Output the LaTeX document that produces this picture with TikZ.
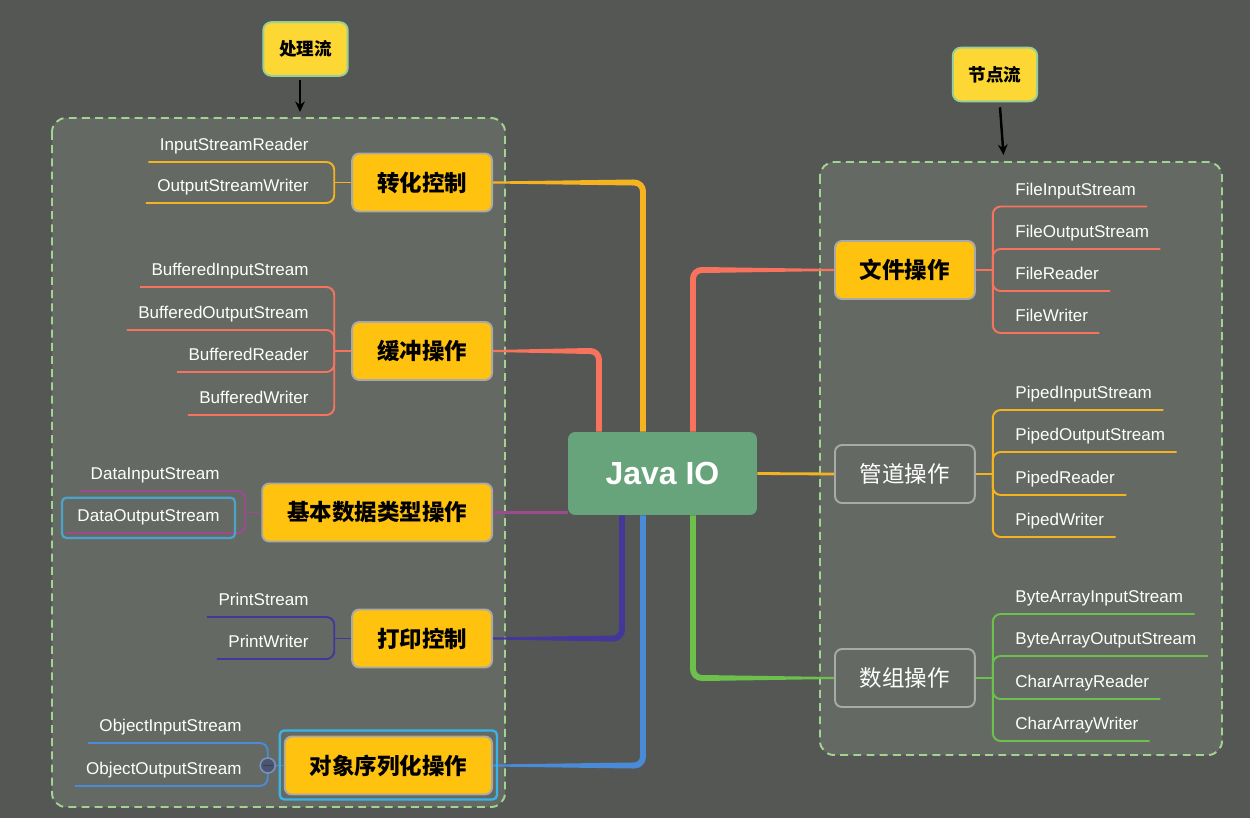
\documentclass[tikz,border=0pt]{standalone}
\usepackage{fontspec}
\setmainfont{Liberation Sans}
\newfontfamily\cjk{Noto Sans CJK SC}
\usepackage{tikz}
\usetikzlibrary{calc}
\usetikzlibrary{arrows.meta}

\definecolor{bgGray}{HTML}{555755}
\definecolor{panelGray}{HTML}{646A63}
\definecolor{dashGreen}{HTML}{A3D392}
\definecolor{lblYellow}{HTML}{FDD835}
\definecolor{lblEdge}{HTML}{98CF98}
\definecolor{catYellow}{HTML}{FFC20E}
\definecolor{catEdge}{HTML}{A9A9A9}
\definecolor{javaGreen}{HTML}{67A37B}
\definecolor{cOrange}{HTML}{F6B320}
\definecolor{cCoral}{HTML}{F7735E}
\definecolor{cPurple}{HTML}{9E4A8F}
\definecolor{cIndigo}{HTML}{43389A}
\definecolor{cBlue}{HTML}{4A8BD8}
\definecolor{cGreen}{HTML}{6CC04B}
\definecolor{selCyan}{HTML}{3AB4E8}
\definecolor{selBlue}{HTML}{4CA2C8}
\definecolor{foldFill}{HTML}{4A5573}
\definecolor{foldEdge}{HTML}{7890BC}

\tikzset{
  panelbox/.style={fill=panelGray, draw=dashGreen, line width=1.1pt, dash pattern=on 4.5pt off 3pt, rounded corners=8pt},
  toplbl/.style={fill=lblYellow, draw=lblEdge, line width=1.1pt, rounded corners=4.5pt, minimum width=48pt, minimum height=30.5pt, font=\cjk\bfseries\fontsize{10}{12}\selectfont, text=black},
  catbox/.style={fill=catYellow, draw=catEdge, line width=1.1pt, rounded corners=4pt, inner xsep=14.2pt, minimum height=33pt, font=\cjk\bfseries\fontsize{12.8}{15}\selectfont, text=black},
  catgray/.style={catbox, fill=panelGray, font=\cjk\fontsize{12.8}{15}\selectfont, text=white},
  javabox/.style={fill=javaGreen, rounded corners=4pt, minimum width=107.5pt, minimum height=47.2pt, font=\bfseries\fontsize{18.2}{20}\selectfont, text=white},
  leaf/.style={text=white, font=\fontsize{9.7}{11}\selectfont, text depth=2.5pt, inner ysep=3.8pt, inner xsep=6.3pt},
  leafL/.style={leaf, anchor=south east},
  leafR/.style={leaf, anchor=south west},
  twig/.style={draw=#1, line width=1.1pt, rounded corners=4.5pt},
  trunk/.style={draw=#1, line width=3.4pt, rounded corners=5pt},
  pointer/.style={draw=black, line width=1.4pt, -{Stealth[length=6pt,width=5.5pt]}},
  selbox/.style={draw=#1, line width=1.3pt, rounded corners=2.5pt},
}

\begin{document}
\begin{tikzpicture}[x=0.02cm, y=-0.02cm]
        %BACKGROUND
        \fill[bgGray] (0,0) rectangle (1250,818);
        \useasboundingbox (0,0) rectangle (1250,818);

        %PANELS
        \draw[panelbox] (52,118) rectangle (505,807);
        \draw[panelbox] (820,162) rectangle (1222,755);

        %TOP LABELS
        \node[toplbl] (cll) at (305.5,49) {处理流};
        \node[toplbl] (jdl) at (995,74.5) {节点流};
        \coordinate (cllTip) at (300,112);
        \coordinate (jdlTip) at (1003.5,155);
        \draw[pointer] ($(cll.south)+(-5.5,3)$) -- (cllTip);
        \draw[pointer] ($(jdl.south)+(5,5)$) -- (jdlTip);

        %CENTER
        \node[javabox] (java) at (662.5,473.5) {Java IO};

        %CATEGORIES
        \node[catbox, anchor=east] (zh) at (493,182.5) {转化控制};
        \node[catbox, anchor=east] (hc) at (493,351) {缓冲操作};
        \node[catbox, anchor=east] (jb) at (493,512.5) {基本数据类型操作};
        \node[catbox, anchor=east] (dy) at (493,638.5) {打印控制};
        \node[catbox, anchor=east] (dx) at (493,765.5) {对象序列化操作};
        \node[catbox, anchor=west] (wj) at (834,270) {文件操作};
        \node[catgray, anchor=west] (gd) at (834,474) {管道操作};
        \node[catgray, anchor=west] (sz) at (834,678) {数组操作};

        %TRUNKS
        \coordinate (tA) at ($(java.north)+(-19.5,0)$);
        \coordinate (tB) at ($(java.north)+(-63.5,0)$);
        \coordinate (tC) at ($(java.south)+(-40.5,0)$);
        \coordinate (tD) at ($(java.south)+(-19.5,0)$);
        \coordinate (tE) at ($(java.north)+(30.5,0)$);
        \coordinate (tF) at ($(java.south)+(30.5,0)$);
        \coordinate (kzh) at (zh.east -| tA);
        \coordinate (khc) at (hc.east -| tB);
        \coordinate (kdy) at (dy.east -| tC);
        \coordinate (kdx) at (dx.east -| tD);
        \coordinate (kwj) at (wj.west -| tE);
        \coordinate (ksz) at (sz.west -| tF);

        \fill[cOrange] ($(zh.east)+(0,-1)$) -- ($(kzh)+(-10,-3)$) -- ($(kzh)+(-10,3)$) -- ($(zh.east)+(0,1)$) -- cycle;
        \draw[trunk=cOrange] ($(kzh)+(-11,0)$) -| (tA);
        \fill[cCoral] ($(hc.east)+(0,-1)$) -- ($(khc)+(-10,-3)$) -- ($(khc)+(-10,3)$) -- ($(hc.east)+(0,1)$) -- cycle;
        \draw[trunk=cCoral] ($(khc)+(-11,0)$) -| (tB);
        \fill[cIndigo] ($(dy.east)+(0,-1)$) -- ($(kdy)+(-10,-3)$) -- ($(kdy)+(-10,3)$) -- ($(dy.east)+(0,1)$) -- cycle;
        \draw[trunk=cIndigo] ($(kdy)+(-11,0)$) -| (tC);
        \fill[cBlue] ($(dx.east)+(0,-1)$) -- ($(kdx)+(-10,-3)$) -- ($(kdx)+(-10,3)$) -- ($(dx.east)+(0,1)$) -- cycle;
        \draw[trunk=cBlue] ($(kdx)+(-11,0)$) -| (tD);
        \fill[cCoral] ($(wj.west)+(0,-1)$) -- ($(kwj)+(10,-3)$) -- ($(kwj)+(10,3)$) -- ($(wj.west)+(0,1)$) -- cycle;
        \draw[trunk=cCoral] ($(kwj)+(11,0)$) -| (tE);
        \fill[cGreen] ($(sz.west)+(0,-1)$) -- ($(ksz)+(10,-3)$) -- ($(ksz)+(10,3)$) -- ($(sz.west)+(0,1)$) -- cycle;
        \draw[trunk=cGreen] ($(ksz)+(11,0)$) -| (tF);
        \draw[cPurple, line width=1.4pt] (jb.east) -- (jb.east -| java.west);
        \draw[cOrange, line width=1.6pt] (java.east) -- (gd.west);

        %LEAVES LEFT
        \coordinate (zhJ) at ($(zh.west)+(-17,0)$);
        \node[leafL] (isr) at (320,162) {InputStreamReader};
        \node[leafL] (osw) at (320,203) {OutputStreamWriter};
        \draw[twig=cOrange] (zh.west) -- (zhJ);
        \draw[twig=cOrange] (isr.south west) -| (zhJ);
        \draw[twig=cOrange] (osw.south west) -| (zhJ);

        \coordinate (hcJ) at ($(hc.west)+(-17,0)$);
        \node[leafL] (bis) at (320,287) {BufferedInputStream};
        \node[leafL] (bos) at (320,330) {BufferedOutputStream};
        \node[leafL] (brd) at (320,372) {BufferedReader};
        \node[leafL] (bwr) at (320,415) {BufferedWriter};
        \draw[twig=cCoral] (hc.west) -- (hcJ);
        \draw[twig=cCoral] (bis.south west) -| (hcJ);
        \draw[twig=cCoral] (bos.south west) -| (hcJ);
        \draw[twig=cCoral] (brd.south west) -| (hcJ);
        \draw[twig=cCoral] (bwr.south west) -| (hcJ);

        \coordinate (jbJ) at ($(jb.west)+(-16,0)$);
        \node[leafL] (dis) at (231,491) {DataInputStream};
        \node[leafL] (dos) at (231,533) {DataOutputStream};
        \draw[twig=cPurple] (jb.west) -- (jbJ);
        \draw[twig=cPurple] (dis.south west) -| (jbJ);
        \draw[twig=cPurple] (dos.south west) -| (jbJ);
        \draw[selbox=selBlue] ($(dos.north west)+(-4,-5)$) rectangle ($(dos.south east)+(4,5)$);

        \coordinate (dyJ) at ($(dy.west)+(-17,0)$);
        \node[leafL] (ps) at (320,617) {PrintStream};
        \node[leafL] (pw) at (320,659) {PrintWriter};
        \draw[twig=cIndigo] (dy.west) -- (dyJ);
        \draw[twig=cIndigo] (ps.south west) -| (dyJ);
        \draw[twig=cIndigo] (pw.south west) -| (dyJ);

        \coordinate (dxJ) at ($(dx.west)+(-16,0)$);
        \node[leafL] (ois) at (253,743) {ObjectInputStream};
        \node[leafL] (oos) at (253,786) {ObjectOutputStream};
        \draw[twig=cBlue] (dx.west) -- (dxJ);
        \draw[twig=cBlue] (ois.south west) -| (dxJ);
        \draw[twig=cBlue] (oos.south west) -| (dxJ);
        \draw[selbox=selCyan] ($(dx.north west)+(-4,-5)$) rectangle ($(dx.south east)+(4,4)$);
        \node[circle, fill=foldFill, draw=foldEdge, line width=0.9pt, minimum size=8.6pt, inner sep=0pt] (fold) at (dxJ) {};
        \draw[black!75, line width=1pt] ($(fold.west)+(3.5,0)$) -- ($(fold.east)+(-3.5,0)$);

        %LEAVES RIGHT
        \coordinate (wjJ) at ($(wj.east)+(17,0)$);
        \node[leafR] (fis) at (1004,206.5) {FileInputStream};
        \node[leafR] (fos) at (1004,249) {FileOutputStream};
        \node[leafR] (frd) at (1004,291) {FileReader};
        \node[leafR] (fwr) at (1004,333) {FileWriter};
        \draw[twig=cCoral] (wj.east) -- (wjJ);
        \draw[twig=cCoral] (fis.south east) -| (wjJ);
        \draw[twig=cCoral] (fos.south east) -| (wjJ);
        \draw[twig=cCoral] (frd.south east) -| (wjJ);
        \draw[twig=cCoral] (fwr.south east) -| (wjJ);

        \coordinate (gdJ) at ($(gd.east)+(17,0)$);
        \node[leafR] (pis) at (1004,410) {PipedInputStream};
        \node[leafR] (pos) at (1004,452) {PipedOutputStream};
        \node[leafR] (prd) at (1004,495) {PipedReader};
        \node[leafR] (pwr) at (1004,537) {PipedWriter};
        \draw[twig=cOrange] (gd.east) -- (gdJ);
        \draw[twig=cOrange] (pis.south east) -| (gdJ);
        \draw[twig=cOrange] (pos.south east) -| (gdJ);
        \draw[twig=cOrange] (prd.south east) -| (gdJ);
        \draw[twig=cOrange] (pwr.south east) -| (gdJ);

        \coordinate (szJ) at ($(sz.east)+(17,0)$);
        \node[leafR] (bais) at (1004,614) {ByteArrayInputStream};
        \node[leafR] (baos) at (1004,656) {ByteArrayOutputStream};
        \node[leafR] (card) at (1004,699) {CharArrayReader};
        \node[leafR] (cawr) at (1004,741) {CharArrayWriter};
        \draw[twig=cGreen] (sz.east) -- (szJ);
        \draw[twig=cGreen] (bais.south east) -| (szJ);
        \draw[twig=cGreen] (baos.south east) -| (szJ);
        \draw[twig=cGreen] (card.south east) -| (szJ);
        \draw[twig=cGreen] (cawr.south east) -| (szJ);
\end{tikzpicture}
\end{document}
